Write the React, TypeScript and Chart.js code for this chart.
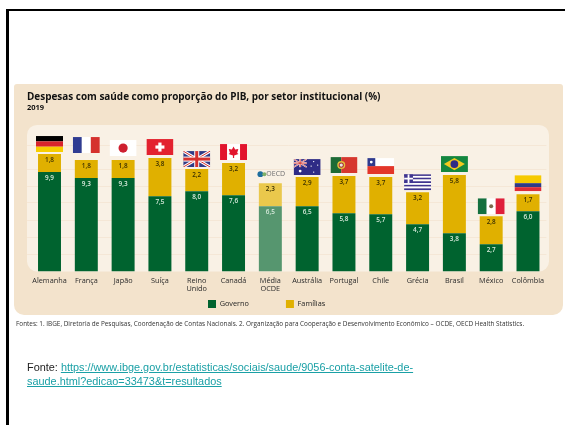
import React, { useEffect, useRef } from "react";
import { Chart, registerables } from "chart.js";

Chart.register(...registerables);

const categories: (string | string[])[] = ["Alemanha", "França", "Japão", "Suíça", ["Reino", "Unido"], "Canadá", ["Média", "OCDE"], "Austrália", "Portugal", "Chile", "Grécia", "Brasil", "México", "Colômbia"];
const governo = [9.9, 9.3, 9.3, 7.5, 8.0, 7.6, 6.5, 6.5, 5.8, 5.7, 4.7, 3.8, 2.7, 6.0];
const familias = [1.8, 1.8, 1.8, 3.8, 2.2, 3.2, 2.3, 2.9, 3.7, 3.7, 3.2, 5.8, 2.8, 1.7];
const gridValues = [1.7, 3.4, 5.05, 6.85, 8.5, 10.2, 12.6];
const flagCodes = ["de", "fr", "jp", "ch", "gb", "ca", "oecd", "au", "pt", "cl", "gr", "br", "mx", "co"];
const flagGaps = [2, 7, 4, 3, 2, 3, 2, 2, 3, 3, 2, 3, 2, 3];

const GREEN = "#00632F";
const YELLOW = "#E0B000";
const OECD_INDEX = 6;
const FW = 27;
const FH = 16;
const LEGEND_PAD = 37;

function rr(ctx: CanvasRenderingContext2D, x: number, y: number, w: number, h: number, r: number[]) {
  ctx.beginPath();
  ctx.roundRect(x, y, w, h, r);
  ctx.fill();
}

function drawFlag(ctx: CanvasRenderingContext2D, code: string, x: number, y: number) {
  const W = FW, H = FH;
  const rect = (c: string, a: number, b: number, w: number, h: number) => {
    ctx.fillStyle = c;
    ctx.fillRect(x + a, y + b, w, h);
  };
  const disc = (c: string, a: number, b: number, r: number) => {
    ctx.fillStyle = c;
    ctx.beginPath();
    ctx.arc(x + a, y + b, r, 0, Math.PI * 2);
    ctx.fill();
  };
  const line = (c: string, lw: number, a: number, b: number, d: number, e: number) => {
    ctx.strokeStyle = c;
    ctx.lineWidth = lw;
    ctx.beginPath();
    ctx.moveTo(x + a, y + b);
    ctx.lineTo(x + d, y + e);
    ctx.stroke();
  };
  ctx.save();
  ctx.beginPath();
  ctx.rect(x, y, W, H);
  ctx.clip();
  switch (code) {
    case "de":
      rect("#000000", 0, 0, W, H / 3);
      rect("#D8242C", 0, H / 3, W, H / 3);
      rect("#F7CE00", 0, (2 * H) / 3, W, H / 3);
      break;
    case "fr":
      rect("#2F3C92", 0, 0, W / 3, H);
      rect("#FFFFFF", W / 3, 0, W / 3, H);
      rect("#D5312E", (2 * W) / 3, 0, W / 3, H);
      break;
    case "jp":
      rect("#FFFFFF", 0, 0, W, H);
      disc("#CE2030", W / 2, H / 2, 4.6);
      break;
    case "ch":
      rect("#E3222F", 0, 0, W, H);
      rect("#FFFFFF", W / 2 - 4.5, H / 2 - 1.6, 9, 3.2);
      rect("#FFFFFF", W / 2 - 1.6, H / 2 - 4.5, 3.2, 9);
      break;
    case "gb":
      rect("#2F3A86", 0, 0, W, H);
      line("#FFFFFF", 3, 0, 0, W, H);
      line("#FFFFFF", 3, W, 0, 0, H);
      line("#D5312E", 1, 0, 0, W, H);
      line("#D5312E", 1, W, 0, 0, H);
      rect("#FFFFFF", W / 2 - 2.5, 0, 5, H);
      rect("#FFFFFF", 0, H / 2 - 2.5, W, 5);
      rect("#D5312E", W / 2 - 1.5, 0, 3, H);
      rect("#D5312E", 0, H / 2 - 1.5, W, 3);
      break;
    case "ca":
      rect("#FFFFFF", 0, 0, W, H);
      rect("#E2142D", 0, 0, 7, H);
      rect("#E2142D", W - 7, 0, 7, H);
      ctx.fillStyle = "#E2142D";
      ctx.beginPath();
      ctx.moveTo(x + W / 2, y + 2.5);
      ctx.lineTo(x + W / 2 + 1.6, y + 5.5);
      ctx.lineTo(x + W / 2 + 4.8, y + 5);
      ctx.lineTo(x + W / 2 + 3.6, y + 9);
      ctx.lineTo(x + W / 2 + 5, y + 10);
      ctx.lineTo(x + W / 2 + 0.6, y + 11.5);
      ctx.lineTo(x + W / 2 + 0.6, y + 14);
      ctx.lineTo(x + W / 2 - 0.6, y + 14);
      ctx.lineTo(x + W / 2 - 0.6, y + 11.5);
      ctx.lineTo(x + W / 2 - 5, y + 10);
      ctx.lineTo(x + W / 2 - 3.6, y + 9);
      ctx.lineTo(x + W / 2 - 4.8, y + 5);
      ctx.lineTo(x + W / 2 - 1.6, y + 5.5);
      ctx.closePath();
      ctx.fill();
      break;
    case "au":
      rect("#2F2C86", 0, 0, W, H);
      rect("#FFFFFF", 0, 3, 13, 2);
      rect("#FFFFFF", 5.5, 0, 2, 8);
      line("#FFFFFF", 1.4, 0, 0, 13, 8);
      line("#FFFFFF", 1.4, 13, 0, 0, 8);
      line("#D5453F", 0.7, 0, 0, 13, 8);
      line("#D5453F", 0.7, 13, 0, 0, 8);
      rect("#D5453F", 0, 3.5, 13, 1);
      rect("#D5453F", 6, 0, 1, 8);
      disc("#FFFFFF", 6.5, 12, 1.4);
      disc("#FFFFFF", 20, 2.5, 0.7);
      disc("#FFFFFF", 24, 6, 0.7);
      disc("#FFFFFF", 17.5, 7, 0.7);
      disc("#FFFFFF", 20, 13, 0.7);
      break;
    case "pt":
      rect("#1E6B36", 0, 0, W * 0.4, H);
      rect("#D6372E", W * 0.4, 0, W * 0.6, H);
      disc("#E5C03C", W * 0.4, H / 2, 4);
      disc("#A8323A", W * 0.4, H / 2, 2.6);
      disc("#E8E6DF", W * 0.4, H / 2, 1.6);
      break;
    case "cl":
      rect("#FFFFFF", 0, 0, W, H / 2);
      rect("#E3362A", 0, H / 2, W, H / 2);
      rect("#2F3A8C", 0, 0, H / 2, H / 2);
      disc("#FFFFFF", H / 4, H / 4, 1.4);
      break;
    case "gr":
      for (let i = 0; i < 9; i++) rect(i % 2 ? "#FFFFFF" : "#3F3590", 0, (i * H) / 9, W, H / 9);
      rect("#3F3590", 0, 0, (5 * H) / 9, (5 * H) / 9);
      rect("#FFFFFF", (2 * H) / 9, 0, H / 9, (5 * H) / 9);
      rect("#FFFFFF", 0, (2 * H) / 9, (5 * H) / 9, H / 9);
      break;
    case "br":
      rect("#14873F", 0, 0, W, H);
      ctx.fillStyle = "#F2C91E";
      ctx.beginPath();
      ctx.moveTo(x + W / 2, y + 1.8);
      ctx.lineTo(x + W - 3, y + H / 2);
      ctx.lineTo(x + W / 2, y + H - 1.8);
      ctx.lineTo(x + 3, y + H / 2);
      ctx.closePath();
      ctx.fill();
      disc("#2F2C86", W / 2, H / 2, 3.9);
      break;
    case "mx":
      rect("#14703F", 0, 0, W / 3, H);
      rect("#FFFFFF", W / 3, 0, W / 3, H);
      rect("#DF1F3A", (2 * W) / 3, 0, W / 3, H);
      disc("#7C6A4C", W / 2, H / 2, 2);
      break;
    case "co":
      rect("#F6CA00", 0, 0, W, H / 2);
      rect("#2F3A86", 0, H / 2, W, H / 4);
      rect("#DE2B36", 0, (3 * H) / 4, W, H / 4);
      break;
  }
  ctx.restore();
}

function drawOecd(ctx: CanvasRenderingContext2D, cx: number, y: number) {
  const mid = y + 5;
  ctx.save();
  ctx.fillStyle = "#1E6E9E";
  ctx.beginPath();
  ctx.arc(cx - 10, mid, 2.9, 0, Math.PI * 2);
  ctx.fill();
  ctx.fillStyle = "#7FB069";
  ctx.beginPath();
  ctx.arc(cx - 6, mid, 2, 0, Math.PI * 2);
  ctx.fill();
  ctx.fillStyle = "#6D6E70";
  ctx.font = "7px 'Open Sans'";
  ctx.textAlign = "left";
  ctx.textBaseline = "middle";
  ctx.fillText("OECD", cx - 4, mid + 0.3);
  ctx.restore();
}

const panelPlugin = {
  id: "panels",
  beforeDraw(chart: any) {
    const ctx = chart.ctx;
    ctx.save();
    ctx.fillStyle = "#F3E3CC";
    rr(ctx, 14, 84, 549, 231, [3, 3, 10, 10]);
    ctx.fillStyle = "#F9F1E5";
    const a = chart.chartArea;
    rr(ctx, 27, a.top, 522, a.bottom - a.top, [10, 10, 10, 10]);
    ctx.restore();
  },
};

const markPlugin = {
  id: "marks",
  afterDatasetsDraw(chart: any) {
    const ctx = chart.ctx;
    const gov = chart.getDatasetMeta(0).data;
    const fam = chart.getDatasetMeta(1).data;
    ctx.save();
    ctx.font = "600 6.4px 'Open Sans'";
    ctx.textAlign = "center";
    ctx.textBaseline = "middle";
    categories.forEach((_, i) => {
      ctx.fillStyle = "#D9EBDD";
      ctx.fillText(governo[i].toFixed(1).replace(".", ","), gov[i].x, gov[i].y + 6);
      ctx.fillStyle = "#3B3000";
      ctx.fillText(familias[i].toFixed(1).replace(".", ","), fam[i].x, fam[i].y + 6);
      const top = fam[i].y - flagGaps[i] - FH;
      if (i === OECD_INDEX) drawOecd(ctx, fam[i].x, top + 4);
      else drawFlag(ctx, flagCodes[i], fam[i].x - FW / 2, top);
    });
    ctx.restore();
  },
};

const legendPlugin = {
  id: "legendPlace",
  afterLayout(chart: any) {
    const l = chart.legend;
    if (!l) return;
    const shiftY = 300 - (l.top + LEGEND_PAD);
    const left = 208 - LEGEND_PAD;
    l.right += left - l.left;
    l.left = left;
    l.top += shiftY;
    l.bottom += shiftY;
  },
};

export default function App() {
  const ref = useRef<HTMLCanvasElement>(null);
  useEffect(() => {
    const chart = new Chart(ref.current as HTMLCanvasElement, {
      type: "bar",
      data: {
        labels: categories as any,
        datasets: [
          {
            label: "Governo",
            data: governo,
            backgroundColor: governo.map((_, i) => (i === OECD_INDEX ? "#56966F" : GREEN)),
          },
          {
            label: "Famílias",
            data: familias,
            backgroundColor: familias.map((_, i) => (i === OECD_INDEX ? "#EAC84C" : YELLOW)),
          },
        ],
      },
      options: {
        responsive: false,
        animation: false,
        layout: { padding: { left: 27, right: 18.6, top: 90, bottom: 71.5 } },
        datasets: { bar: { barPercentage: 0.624, categoryPercentage: 1 } },
        plugins: {
          tooltip: { enabled: false },
          title: {
            display: true,
            text: "Despesas com saúde como proporção do PIB, por setor institucional (%)",
            align: "start",
            color: "#111111",
            font: { family: "'Open Sans'", size: 9.95, weight: 700 },
            padding: { top: 1, bottom: 0 },
          },
          subtitle: {
            display: true,
            text: "2019",
            align: "start",
            color: "#111111",
            font: { family: "'Open Sans'", size: 7.5, weight: 700 },
            padding: { top: 0, bottom: 13 },
          },
          legend: {
            position: "bottom",
            align: "start",
            labels: {
              boxWidth: 8,
              boxHeight: 8,
              padding: LEGEND_PAD,
              color: "#222222",
              font: { family: "'Open Sans'", size: 7.3 },
            },
          },
        },
        scales: {
          x: {
            stacked: true,
            grid: { display: false, drawTicks: false },
            border: { display: false },
            ticks: {
              autoSkip: false,
              maxRotation: 0,
              minRotation: 0,
              padding: 5.5,
              color: "#2A2A2A",
              font: { family: "'Open Sans'", size: 7.3, lineHeight: 1.1 },
            },
          },
          y: {
            stacked: true,
            min: 0,
            max: 14.6,
            border: { display: false },
            grid: { color: "#F5E7D6", lineWidth: 1, tickLength: 4, tickColor: "#F5E7D6" },
            ticks: { display: false },
            afterBuildTicks(scale: any) {
              scale.ticks = gridValues.map((value) => ({ value }));
            },
            afterFit(scale: any) {
              scale.width = 4.1;
            },
          },
        },
      },
      plugins: [panelPlugin, legendPlugin, markPlugin],
    } as any);
    return () => chart.destroy();
  }, []);

  return (
    <div style={{ position: "fixed", left: 0, top: 0, width: 565, height: 425, overflow: "hidden", background: "#FFFFFF" }}>
      <canvas ref={ref} width={565} height={425} style={{ position: "absolute", left: 0, top: 0 }} />
      <div style={{ position: "absolute", left: 6, top: 9, width: 560, height: 420, borderTop: "2px solid #000", borderLeft: "3px solid #000" }} />
      <div style={{ position: "absolute", left: 16, top: 320, whiteSpace: "nowrap", fontFamily: "'Open Sans'", fontSize: 6.4, lineHeight: "8px", color: "#333" }}>
        Fontes: 1. IBGE, Diretoria de Pesquisas, Coordenação de Contas Nacionais. 2. Organização para Cooperação e Desenvolvimento Econômico – OCDE, OECD Health Statistics.
      </div>
      <div style={{ position: "absolute", left: 27, top: 360, whiteSpace: "nowrap", fontFamily: "'Liberation Sans'", fontSize: 10.88, lineHeight: "14px", color: "#222" }}>
        Fonte:{" "}
        <a href="#" style={{ color: "#1AA0A6", textDecoration: "underline" }}>
          https://www.ibge.gov.br/estatisticas/sociais/saude/9056-conta-satelite-de-
          <br />
          saude.html?edicao=33473&amp;t=resultados
        </a>
      </div>
    </div>
  );
}
